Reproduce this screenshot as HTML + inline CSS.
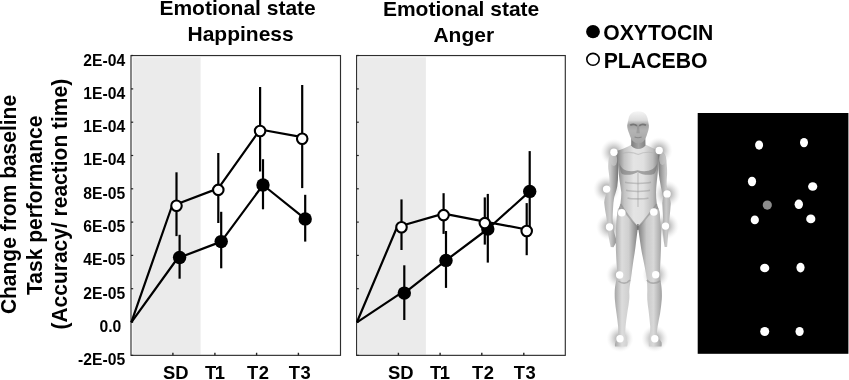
<!DOCTYPE html>
<html lang="en">
<head>
<meta charset="utf-8">
<title>Emotional state: Oxytocin vs Placebo</title>
<style>
html,body{margin:0;padding:0;background:#fff;}
body{width:849px;height:380px;position:relative;overflow:hidden;font-family:"Liberation Sans",Arial,sans-serif;}
</style>
</head>
<body>
<svg width="849" height="380" viewBox="0 0 849 380" style="position:absolute;left:0;top:0">
<defs>
<radialGradient id="glow" cx="50%" cy="50%" r="50%">
<stop offset="0" stop-color="#929292" stop-opacity="0.9"/>
<stop offset="0.3" stop-color="#9e9e9e" stop-opacity="0.7"/>
<stop offset="0.6" stop-color="#b4b4b4" stop-opacity="0.4"/>
<stop offset="0.85" stop-color="#cccccc" stop-opacity="0.14"/>
<stop offset="1" stop-color="#e0e0e0" stop-opacity="0"/>
</radialGradient>
<linearGradient id="torso" gradientUnits="userSpaceOnUse" x1="618" x2="659" y1="0" y2="0">
<stop offset="0" stop-color="#8a8a8a"/>
<stop offset="0.15" stop-color="#c2c2c2"/>
<stop offset="0.38" stop-color="#e4e4e4"/>
<stop offset="0.62" stop-color="#e0e0e0"/>
<stop offset="0.85" stop-color="#bcbcbc"/>
<stop offset="1" stop-color="#848484"/>
</linearGradient>
<linearGradient id="legL" gradientUnits="userSpaceOnUse" x1="615" x2="638" y1="0" y2="0">
<stop offset="0" stop-color="#a8a8a8"/>
<stop offset="0.3" stop-color="#dcdcdc"/>
<stop offset="0.6" stop-color="#cfcfcf"/>
<stop offset="1" stop-color="#7d7d7d"/>
</linearGradient>
<linearGradient id="legR" gradientUnits="userSpaceOnUse" x1="638" x2="662" y1="0" y2="0">
<stop offset="0" stop-color="#7d7d7d"/>
<stop offset="0.35" stop-color="#c8c8c8"/>
<stop offset="0.65" stop-color="#d8d8d8"/>
<stop offset="1" stop-color="#a0a0a0"/>
</linearGradient>
<linearGradient id="armL" gradientUnits="userSpaceOnUse" x1="604" x2="619" y1="0" y2="0">
<stop offset="0" stop-color="#b2b2b2"/>
<stop offset="0.4" stop-color="#cecece"/>
<stop offset="0.75" stop-color="#9a9a9a"/>
<stop offset="1" stop-color="#6a6a6a"/>
</linearGradient>
<linearGradient id="armR" gradientUnits="userSpaceOnUse" x1="657" x2="671" y1="0" y2="0">
<stop offset="0" stop-color="#6a6a6a"/>
<stop offset="0.3" stop-color="#9c9c9c"/>
<stop offset="0.65" stop-color="#cacaca"/>
<stop offset="1" stop-color="#aeaeae"/>
</linearGradient>
<linearGradient id="head" gradientUnits="userSpaceOnUse" x1="0" x2="0" y1="111" y2="144">
<stop offset="0" stop-color="#f6f6f6"/>
<stop offset="0.28" stop-color="#dcdcdc"/>
<stop offset="0.42" stop-color="#a2a2a2"/>
<stop offset="0.6" stop-color="#b4b4b4"/>
<stop offset="1" stop-color="#a4a4a4"/>
</linearGradient>
<filter id="soft" x="-10%" y="-5%" width="120%" height="110%"><feGaussianBlur stdDeviation="0.6"/></filter>
<filter id="soft2" x="-30%" y="-30%" width="160%" height="160%"><feGaussianBlur stdDeviation="0.45"/></filter>
<linearGradient id="neck" gradientUnits="userSpaceOnUse" x1="631" x2="646" y1="0" y2="0">
<stop offset="0" stop-color="#7c7c7c"/>
<stop offset="0.5" stop-color="#a4a4a4"/>
<stop offset="1" stop-color="#808080"/>
</linearGradient>
</defs>

<g font-family="'Liberation Sans', Arial, sans-serif" font-weight="bold" fill="#000">
<text x="237.6" y="15.3" font-size="21" text-anchor="middle">Emotional state</text>
<text x="240.6" y="40.8" font-size="21" text-anchor="middle">Happiness</text>
<text x="461.1" y="16.3" font-size="21" text-anchor="middle">Emotional state</text>
<text x="463.8" y="41.8" font-size="21" text-anchor="middle">Anger</text>
<text transform="translate(16,204.5) rotate(-90) scale(1,1.04)" font-size="21" text-anchor="middle">Change from baseline</text>
<text transform="translate(41.5,205.3) rotate(-90) scale(1,1.04)" font-size="21" text-anchor="middle">Task performance</text>
<text transform="translate(67,204.2) rotate(-90) scale(1,1.04)" font-size="21" text-anchor="middle">(Accuracy/ reaction time)</text>
<text x="125.2" y="65.5" font-size="15.7" text-anchor="end">2E-04</text>
<text x="125.2" y="98.8" font-size="15.7" text-anchor="end">1E-04</text>
<text x="125.2" y="132.1" font-size="15.7" text-anchor="end">1E-04</text>
<text x="125.2" y="165.4" font-size="15.7" text-anchor="end">1E-04</text>
<text x="125.2" y="198.7" font-size="15.7" text-anchor="end">8E-05</text>
<text x="125.2" y="232.0" font-size="15.7" text-anchor="end">6E-05</text>
<text x="125.2" y="265.3" font-size="15.7" text-anchor="end">4E-05</text>
<text x="125.2" y="298.6" font-size="15.7" text-anchor="end">2E-05</text>
<text x="121.3" y="331.9" font-size="15.7" text-anchor="end">0.0</text>
<text x="125.2" y="365.2" font-size="15.7" text-anchor="end">-2E-05</text>
<text x="162.9" y="379.3" font-size="18.4">SD</text>
<text x="205.0" y="379.3" font-size="18.4" letter-spacing="-1.4">T1</text>
<text x="247.0" y="379.3" font-size="18.4" letter-spacing="0.5">T2</text>
<text x="288.8" y="379.3" font-size="18.4" letter-spacing="0.5">T3</text>
<text x="387.9" y="379.3" font-size="18.4">SD</text>
<text x="430.0" y="379.3" font-size="18.4" letter-spacing="-1.4">T1</text>
<text x="472.0" y="379.3" font-size="18.4" letter-spacing="0.5">T2</text>
<text x="513.8" y="379.3" font-size="18.4" letter-spacing="0.5">T3</text>
<ellipse cx="593" cy="31.7" rx="6.9" ry="6.6" fill="#000"/>
<ellipse cx="593" cy="59.3" rx="6.2" ry="5.9" fill="#fff" stroke="#000" stroke-width="1.6"/>
<text x="603.3" y="39.7" font-size="21.5" textLength="110" lengthAdjust="spacingAndGlyphs">OXYTOCIN</text>
<text x="603.7" y="67.8" font-size="21.5" textLength="103.8" lengthAdjust="spacingAndGlyphs">PLACEBO</text>
</g>
<rect x="132.5" y="57.349999999999994" width="68.1" height="297.2" fill="#ebebeb"/>
<rect x="131.0" y="55.55" width="209.5" height="299.8" fill="none" stroke="#2e2e2e" stroke-width="1.15"/>
<line x1="131.0" x2="133.2" y1="55.5" y2="55.5" stroke="#222" stroke-width="1.2"/>
<line x1="131.0" x2="133.2" y1="88.9" y2="88.9" stroke="#222" stroke-width="1.2"/>
<line x1="131.0" x2="133.2" y1="122.2" y2="122.2" stroke="#222" stroke-width="1.2"/>
<line x1="131.0" x2="133.2" y1="155.5" y2="155.5" stroke="#222" stroke-width="1.2"/>
<line x1="131.0" x2="133.2" y1="188.8" y2="188.8" stroke="#222" stroke-width="1.2"/>
<line x1="131.0" x2="133.2" y1="222.1" y2="222.1" stroke="#222" stroke-width="1.2"/>
<line x1="131.0" x2="133.2" y1="255.4" y2="255.4" stroke="#222" stroke-width="1.2"/>
<line x1="131.0" x2="133.2" y1="288.7" y2="288.7" stroke="#222" stroke-width="1.2"/>
<line x1="131.0" x2="133.2" y1="322.0" y2="322.0" stroke="#222" stroke-width="1.2"/>
<line x1="131.0" x2="133.2" y1="355.4" y2="355.4" stroke="#222" stroke-width="1.2"/>
<line x1="172.9" x2="172.9" y1="355.35" y2="352.75" stroke="#222" stroke-width="1.4"/>
<line x1="214.9" x2="214.9" y1="355.35" y2="352.75" stroke="#222" stroke-width="1.4"/>
<line x1="256.6" x2="256.6" y1="355.35" y2="352.75" stroke="#222" stroke-width="1.4"/>
<line x1="298.4" x2="298.4" y1="355.35" y2="352.75" stroke="#222" stroke-width="1.4"/>
<line x1="176.5" x2="176.5" y1="172.3" y2="236.1" stroke="#000" stroke-width="2.2"/>
<line x1="218.3" x2="218.3" y1="153.0" y2="223.0" stroke="#000" stroke-width="2.2"/>
<line x1="260.1" x2="260.1" y1="87.0" y2="171.5" stroke="#000" stroke-width="2.2"/>
<line x1="302.2" x2="302.2" y1="85.0" y2="188.1" stroke="#000" stroke-width="2.2"/>
<line x1="179.6" x2="179.6" y1="234.8" y2="278.7" stroke="#000" stroke-width="2.2"/>
<line x1="221.2" x2="221.2" y1="211.8" y2="268.3" stroke="#000" stroke-width="2.2"/>
<line x1="263.0" x2="263.0" y1="159.2" y2="209.3" stroke="#000" stroke-width="2.2"/>
<line x1="305.2" x2="305.2" y1="194.8" y2="241.6" stroke="#000" stroke-width="2.2"/>
<polyline points="131.3,322.3 178.1,257.5 179.6,257.5 221.2,241.6 263.0,185.0 305.2,218.9" fill="none" stroke="#000" stroke-width="2.2" stroke-linejoin="round"/>
<polyline points="131.3,322.3 172.5,204.5 176.5,204.2 218.3,188.4 260.1,129.5 302.2,137.2" fill="none" stroke="#000" stroke-width="2.2" stroke-linejoin="round"/>
<circle cx="179.6" cy="257.5" r="6.7" fill="#000"/>
<circle cx="221.2" cy="241.6" r="6.7" fill="#000"/>
<circle cx="263.0" cy="185.0" r="6.7" fill="#000"/>
<circle cx="305.2" cy="218.9" r="6.7" fill="#000"/>
<circle cx="176.5" cy="205.7" r="5.25" fill="#fff" stroke="#000" stroke-width="2.1"/>
<circle cx="218.3" cy="189.9" r="5.25" fill="#fff" stroke="#000" stroke-width="2.1"/>
<circle cx="260.1" cy="131.0" r="5.25" fill="#fff" stroke="#000" stroke-width="2.1"/>
<circle cx="302.2" cy="138.7" r="5.25" fill="#fff" stroke="#000" stroke-width="2.1"/>
<rect x="358.1" y="57.349999999999994" width="67.8" height="297.2" fill="#ebebeb"/>
<rect x="356.6" y="55.55" width="208.7" height="299.8" fill="none" stroke="#2e2e2e" stroke-width="1.15"/>
<line x1="356.6" x2="358.8" y1="55.5" y2="55.5" stroke="#222" stroke-width="1.2"/>
<line x1="356.6" x2="358.8" y1="88.9" y2="88.9" stroke="#222" stroke-width="1.2"/>
<line x1="356.6" x2="358.8" y1="122.2" y2="122.2" stroke="#222" stroke-width="1.2"/>
<line x1="356.6" x2="358.8" y1="155.5" y2="155.5" stroke="#222" stroke-width="1.2"/>
<line x1="356.6" x2="358.8" y1="188.8" y2="188.8" stroke="#222" stroke-width="1.2"/>
<line x1="356.6" x2="358.8" y1="222.1" y2="222.1" stroke="#222" stroke-width="1.2"/>
<line x1="356.6" x2="358.8" y1="255.4" y2="255.4" stroke="#222" stroke-width="1.2"/>
<line x1="356.6" x2="358.8" y1="288.7" y2="288.7" stroke="#222" stroke-width="1.2"/>
<line x1="356.6" x2="358.8" y1="322.0" y2="322.0" stroke="#222" stroke-width="1.2"/>
<line x1="356.6" x2="358.8" y1="355.4" y2="355.4" stroke="#222" stroke-width="1.2"/>
<line x1="398.4" x2="398.4" y1="355.35" y2="352.75" stroke="#222" stroke-width="1.4"/>
<line x1="440.1" x2="440.1" y1="355.35" y2="352.75" stroke="#222" stroke-width="1.4"/>
<line x1="481.8" x2="481.8" y1="355.35" y2="352.75" stroke="#222" stroke-width="1.4"/>
<line x1="523.8" x2="523.8" y1="355.35" y2="352.75" stroke="#222" stroke-width="1.4"/>
<line x1="401.5" x2="401.5" y1="199.4" y2="250.0" stroke="#000" stroke-width="2.2"/>
<line x1="443.6" x2="443.6" y1="193.2" y2="233.9" stroke="#000" stroke-width="2.2"/>
<line x1="484.8" x2="484.8" y1="197.4" y2="244.6" stroke="#000" stroke-width="2.2"/>
<line x1="526.7" x2="526.7" y1="203.1" y2="255.2" stroke="#000" stroke-width="2.2"/>
<line x1="404.3" x2="404.3" y1="265.3" y2="320.0" stroke="#000" stroke-width="2.2"/>
<line x1="446.0" x2="446.0" y1="231.0" y2="287.9" stroke="#000" stroke-width="2.2"/>
<line x1="487.8" x2="487.8" y1="193.9" y2="262.6" stroke="#000" stroke-width="2.2"/>
<line x1="529.7" x2="529.7" y1="151.1" y2="231.7" stroke="#000" stroke-width="2.2"/>
<polyline points="356.9,322.3 400.9,293.1 404.3,293.1 446.0,260.4 487.8,229.0 529.7,191.4" fill="none" stroke="#000" stroke-width="2.2" stroke-linejoin="round"/>
<polyline points="356.9,322.3 397.5,226.0 401.5,225.7 443.6,213.6 484.8,221.6 526.7,229.5" fill="none" stroke="#000" stroke-width="2.2" stroke-linejoin="round"/>
<circle cx="404.3" cy="293.1" r="6.7" fill="#000"/>
<circle cx="446.0" cy="260.4" r="6.7" fill="#000"/>
<circle cx="487.8" cy="229.0" r="6.7" fill="#000"/>
<circle cx="529.7" cy="191.4" r="6.7" fill="#000"/>
<circle cx="401.5" cy="227.2" r="5.25" fill="#fff" stroke="#000" stroke-width="2.1"/>
<circle cx="443.6" cy="215.1" r="5.25" fill="#fff" stroke="#000" stroke-width="2.1"/>
<circle cx="484.8" cy="223.1" r="5.25" fill="#fff" stroke="#000" stroke-width="2.1"/>
<circle cx="526.7" cy="231.0" r="5.25" fill="#fff" stroke="#000" stroke-width="2.1"/>
<g id="body">
<!-- glows -->
<g>
<circle cx="613.9" cy="152.3" r="13.5" fill="url(#glow)"/>
<circle cx="659.2" cy="150.5" r="13.5" fill="url(#glow)"/>
<circle cx="606.6" cy="189.1" r="13.5" fill="url(#glow)"/>
<circle cx="667.1" cy="193.9" r="13.5" fill="url(#glow)"/>
<circle cx="609.5" cy="227.0" r="13.5" fill="url(#glow)"/>
<circle cx="665.5" cy="226.1" r="13.5" fill="url(#glow)"/>
<circle cx="619.6" cy="275.0" r="13.5" fill="url(#glow)"/>
<circle cx="655.7" cy="274.7" r="13.5" fill="url(#glow)"/>
<circle cx="620.0" cy="338.7" r="13.5" fill="url(#glow)"/>
<circle cx="654.8" cy="338.7" r="13.5" fill="url(#glow)"/>
</g>
<g filter="url(#soft)">
<!-- left arm -->
<path d="M618,150.5 C613,151.5 609.8,154 608.9,158 C608.3,162 608.2,166 608.4,169 C608.8,173 609.6,177 609.5,181.6 C609,185 608,188 607.1,191 C605.8,195 604.5,198.5 604.2,202.5 C604.6,208 605.8,213.5 606.6,218.7 C607,222 607.2,225 607.5,228 C608.2,234 609.2,241 610.7,247 L613.5,247.3 C614.5,245.5 616,243.5 616.6,240.8 C615.8,237 614.2,233 613.4,229 C613,225.5 612.8,222 612.6,218.7 C612.8,213 613,208 613.4,203 C613.7,201 613.9,199 614.2,197.3 C615.4,193.5 616.6,190 617.3,186.3 C617.9,182 618.1,178 618.1,173.7 C618.2,169 618.2,164 618.3,159.5 Z" fill="url(#armL)"/>
<!-- right arm -->
<path d="M656.5,149 C661,150.2 664.6,152.5 665.8,156.5 C666.5,159 666.6,161.5 666.7,164 C667,167 667.2,170.5 667.1,173.7 C666.9,177.5 666.5,181 666.6,184.7 C667,188 667.9,191 668.6,194.2 C669.5,197.5 670.6,200.5 670.8,203.5 C670.6,208.5 669.9,213.5 669.4,218.7 C669.1,221.5 668.9,224 668.6,226.6 C668.2,233.5 667.6,240.5 667.1,247.1 L664.7,247 C663.9,243 663.3,238.8 663.1,234.5 C663,229.5 663,224 663.1,218.7 C662.8,213.5 662.5,208 662.3,202.9 C662.6,201 662.8,199 663.1,197.3 C662.4,193.6 661.4,190 660.8,186.3 C660,182 659.3,178 658.8,173.7 C658.5,171 658.4,168.5 658.4,165.8 C658.2,161 658,156 657.8,152 Z" fill="url(#armR)"/>
<!-- torso -->
<path d="M631.2,139 L631.2,144.5 C628.5,146.5 625.5,147.8 622.5,149 C620.5,149.8 618.8,150.3 617.3,150.8 C617,154 617.5,157 618,159.5 C618,161.6 618.1,163.7 618.1,165.8 C618.4,171 619,176.3 619.7,181.6 C620.3,185.3 620.9,189 621.3,192.6 C621.3,196.3 620.9,200 620.5,203.7 C619.6,206 618.7,208.4 618.1,210.8 C617.6,214 617.4,217 617.5,220 L637.9,229.5 L659.5,220 C659.7,217 659.6,214 659.2,210.8 C658.4,208.4 657.5,206 656.8,203.7 C656.3,200 656,196.3 656,192.6 C656.1,189 656.4,185.3 656.8,181.6 C657.4,176.3 658,171 658.4,165.8 C658.4,163 658.2,160 658,157 C658.2,154.5 657.8,152 657,149.8 C653.5,148.3 649.5,146.8 645.4,144.5 L645.4,139 Z" fill="url(#torso)"/>
<!-- left leg -->
<path d="M618.1,208 C617,214 616.3,220 616.1,226.6 C615.7,232 615.7,237 615.8,242.3 C615.8,249 616.1,256.5 616.6,263.7 C616.9,267.5 617.3,271 617.3,274.7 C616.8,279 615.6,283 615,287.3 C614.6,291 614.6,295 614.8,299 C615.1,304 615.9,309 616.6,313.9 C617.1,318 617.8,322.5 618.1,326.6 C618.3,329.5 618.3,332 618.1,334.5 C617.3,338 615.6,341 615,343.9 C614.8,344.8 614.9,345.6 615.1,346.4 L627.1,346.4 C627.5,345 627.7,343.6 627.6,342.3 C626.8,339.8 625.7,337 625.2,334.5 C625.2,332 625.4,329.3 625.6,326.6 C626,321.5 626.9,316 627.6,310.8 C628.3,307 628.9,303.5 629.2,299.7 C629.5,297 629.4,294.5 629.2,292.1 C629.3,288 630.1,283.8 630.8,279.5 C631.3,275.8 631.8,272 632.3,268.4 C633,263 633.9,257.8 634.7,252.6 C635.2,249 635.7,245.5 636,242.3 C636.7,237 637.4,231.8 638,226.6 Z" fill="url(#legL)"/>
<!-- right leg -->
<path d="M658.6,208 C659.6,214 660.5,220 660.8,226.6 C661.1,232 661.2,237 661.1,242.3 C661,249.5 660.7,256.5 660.3,263.7 C660.1,267.5 659.9,271 660,274.7 C660.3,279 661.1,283 661.5,287.3 C661.9,291 662,295 661.8,299 C661.5,304 660.7,309 660,313.9 C659.3,318 658.2,322.5 657.6,326.6 C657.2,329.5 656.9,332 656.8,334.5 C657.8,337.5 660.2,340 661.5,342.3 C661.8,343.6 661.8,345 661.5,346.4 L648.9,346.4 C648.7,345 648.7,343.6 648.9,342.3 C649.3,339.8 649.7,337 649.7,334.5 C650.1,332 650.3,329.3 650.2,326.6 C649.8,321.5 649.2,316 648.6,310.8 C648.1,307 647.5,303.5 647.3,299.7 C647.2,297 647.2,294.5 647.3,292.1 C647.4,288 647.2,283.8 646.9,279.5 C646.4,275.8 645.7,272 645,268.4 C644,263 642.8,257.8 641.8,252.6 C641.2,249 640.6,245.5 640.2,242.3 C639.4,237 638.7,231.8 638,226.6 Z" fill="url(#legR)"/>
<!-- shoulders highlight -->
<ellipse cx="613.8" cy="160" rx="3.4" ry="6" fill="#cfcfcf" opacity="0.6" filter="url(#soft)"/>
<ellipse cx="662.4" cy="159" rx="3.2" ry="6" fill="#cacaca" opacity="0.6" filter="url(#soft)"/>
<!-- pecs -->
<path d="M619.5,163 C621,170.5 629,172.8 637.6,170.2 C646,172.8 655,170.5 657.3,163 C657,168 656,172 654,174 C648,175.8 642,174.6 637.7,172.2 C633,174.6 627,175.8 622,174 C620.3,172 619.7,168 619.5,163 Z" fill="#6f6f6f" opacity="0.55"/>
<path d="M625,182.3 C630,183.8 646,183.8 651,182.3 M626,190.3 C631,191.8 645,191.8 650,190.3 M627.5,198 C632,199.2 644,199.2 648.5,198" fill="none" stroke="#8a8a8a" stroke-width="1.6" opacity="0.4"/>
<path d="M638,173 L638,207" stroke="#9a9a9a" stroke-width="1.1" opacity="0.55"/>
<path d="M620.5,204 C625,212 632,221 637.9,227.5 C644,221 651,212 656.8,204" fill="none" stroke="#8c8c8c" stroke-width="1.7" opacity="0.6"/>
<path d="M637.9,224 L637.9,230" stroke="#6a6a6a" stroke-width="1.6" opacity="0.8"/>
<!-- knee shading -->
<path d="M618.5,281 C622,284 627,284 630,280 M646.8,280 C650,284 656,284 660,281" fill="none" stroke="#8a8a8a" stroke-width="1.6" opacity="0.5"/>
<!-- neck -->
<path d="M631.4,134 L631.2,145.5 C634,150 642.5,150 645.4,145.5 L645.2,134 Z" fill="url(#neck)"/>
<path d="M622,153.5 C628,151.5 634,152.5 638.2,154.5 C642.5,152.5 648,151.5 654.5,153" fill="none" stroke="#b0b0b0" stroke-width="1.1" opacity="0.55"/>
<!-- head -->
<path d="M638.1,111.2 C632.5,111.2 629.4,114 628.6,118.5 C628.2,120.5 627.6,123 627.2,125.5 C627.2,128 628,131 629.2,133.4 C630,136 631,138.5 632.3,140.5 C633.6,142 635.3,143 637,143.2 C638,143.3 639,143.3 640,143.1 C641.8,142.8 643.2,142 644.2,140.5 C645.6,138.5 646.6,136 647.3,133.4 C648.4,131 649,128 648.9,125.5 C648.5,123 648,120.5 647.6,118.5 C646.8,114 643.7,111.2 638.1,111.2 Z" fill="url(#head)"/>
<path d="M630.2,125.3 C632.3,124 635.2,124.2 637,125.8 M639.2,125.8 C641,124.2 643.9,124 646,125.3" fill="none" stroke="#666" stroke-width="1.7" opacity="0.75"/>
<path d="M637.2,126 L636.4,133.2 L639.8,133.2 L639,126" fill="#8a8a8a" opacity="0.5"/>
<path d="M634.6,137 C636.6,137.8 639.6,137.8 641.6,137" fill="none" stroke="#777" stroke-width="1.1" opacity="0.7"/>
</g>
<!-- dots -->
<g fill="#fff" filter="url(#soft2)">
<circle cx="613.9" cy="152.3" r="3.7"/>
<circle cx="659.2" cy="150.5" r="3.7"/>
<circle cx="606.6" cy="189.1" r="3.7"/>
<circle cx="667.1" cy="193.9" r="3.7"/>
<circle cx="621.8" cy="212.7" r="3.8"/>
<circle cx="653.8" cy="212.0" r="3.8"/>
<circle cx="609.5" cy="227.0" r="3.7"/>
<circle cx="665.5" cy="226.1" r="3.7"/>
<circle cx="619.6" cy="275.0" r="3.7"/>
<circle cx="655.7" cy="274.7" r="3.7"/>
<circle cx="620.0" cy="338.7" r="3.7"/>
<circle cx="654.8" cy="338.7" r="3.7"/>
</g>
</g>

<g>
<rect x="697.7" y="113" width="150.7" height="240.8" fill="#000"/>
<g fill="#fff">
<ellipse cx="759.1" cy="145.1" rx="4.0" ry="4.6"/>
<ellipse cx="804.0" cy="142.6" rx="4.0" ry="4.7"/>
<ellipse cx="752.0" cy="181.5" rx="4.1" ry="4.8"/>
<ellipse cx="812.7" cy="186.5" rx="4.6" ry="4.3"/>
<ellipse cx="798.8" cy="204.3" rx="4.2" ry="4.8"/>
<ellipse cx="754.8" cy="219.9" rx="4.1" ry="4.3"/>
<ellipse cx="810.8" cy="218.9" rx="4.6" ry="4.4"/>
<ellipse cx="764.7" cy="268.0" rx="4.6" ry="4.3"/>
<ellipse cx="800.5" cy="267.6" rx="4.1" ry="4.8"/>
<ellipse cx="764.7" cy="331.5" rx="4.5" ry="4.5"/>
<ellipse cx="799.6" cy="331.5" rx="4.1" ry="4.5"/>
</g>
<circle cx="767.3" cy="205.1" r="4.6" fill="#8c8c8c"/>
</g>

</svg>
</body>
</html>
